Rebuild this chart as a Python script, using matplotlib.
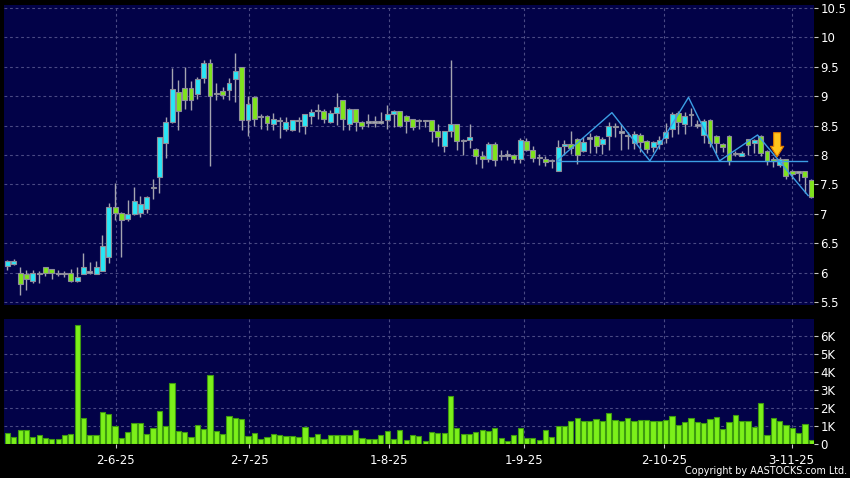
import matplotlib
matplotlib.use("Agg")
import matplotlib.pyplot as plt
import numpy as np

# ---------------- data ----------------
opens = [6.12, 6.14, 5.99, 5.98, 5.85, 5.98, 6.09, 6.06, 5.99, 5.99,
         5.99, 5.85, 5.98, 6.01, 5.98, 6.03, 6.27, 7.11, 7.02, 6.92,
         6.99, 7.01, 7.09, 7.45, 7.62, 8.20, 8.56, 9.07, 9.14, 9.14,
         9.04, 9.31, 9.56, 9.05, 9.09, 9.10, 9.30, 9.49, 8.59, 8.99,
         8.66, 8.67, 8.53, 8.58, 8.44, 8.43, 8.59, 8.50, 8.67, 8.75,
         8.74, 8.56, 8.72, 8.93, 8.53, 8.78, 8.56, 8.56, 8.56, 8.56,
         8.59, 8.70, 8.74, 8.67, 8.61, 8.58, 8.58, 8.59, 8.40, 8.16,
         8.40, 8.52, 8.25, 8.26, 8.11, 7.99, 7.94, 8.18, 7.99, 8.00,
         8.00, 7.94, 8.23, 8.08, 7.96, 7.93, 7.90, 7.73, 8.16, 8.19,
         8.28, 8.06, 8.29, 8.33, 8.18, 8.33, 8.48, 8.39, 8.33, 8.20,
         8.34, 8.24, 8.14, 8.19, 8.29, 8.44, 8.71, 8.52, 8.69, 8.51,
         8.34, 8.59, 8.33, 8.19, 8.33, 8.02, 7.99, 8.27, 8.20, 8.33,
         8.07, 7.94, 7.83, 7.93, 7.72, 7.71, 7.72, 7.58]
closes = [6.19, 6.19, 5.80, 5.89, 5.99, 5.98, 5.99, 5.99, 5.99, 5.99,
          5.85, 5.92, 6.09, 6.01, 6.09, 6.45, 7.11, 7.01, 6.89, 6.99,
          7.21, 7.16, 7.28, 7.45, 8.31, 8.56, 9.13, 8.75, 8.94, 8.93,
          9.30, 9.56, 9.00, 9.05, 9.02, 9.22, 9.43, 8.59, 8.87, 8.61,
          8.66, 8.54, 8.61, 8.58, 8.56, 8.59, 8.59, 8.69, 8.73, 8.75,
          8.62, 8.71, 8.82, 8.62, 8.79, 8.56, 8.50, 8.56, 8.56, 8.56,
          8.69, 8.74, 8.50, 8.57, 8.47, 8.58, 8.58, 8.40, 8.30, 8.40,
          8.52, 8.23, 8.25, 8.30, 7.99, 7.94, 8.18, 7.91, 7.99, 8.00,
          7.94, 8.25, 8.09, 7.95, 7.96, 7.88, 7.90, 8.14, 8.19, 8.12,
          8.00, 8.22, 8.29, 8.15, 8.28, 8.50, 8.48, 8.39, 8.33, 8.36,
          8.22, 8.11, 8.22, 8.26, 8.39, 8.70, 8.56, 8.67, 8.69, 8.51,
          8.57, 8.21, 8.21, 8.13, 7.90, 8.02, 8.03, 8.17, 8.25, 8.04,
          7.90, 7.89, 7.94, 7.65, 7.67, 7.71, 7.62, 7.29]
highs = [6.22, 6.24, 6.10, 6.04, 6.04, 6.03, 6.10, 6.07, 6.05, 6.02,
         6.07, 6.10, 6.33, 6.18, 6.20, 6.64, 7.18, 7.53, 7.03, 7.23,
         7.45, 7.31, 7.30, 7.60, 8.31, 8.65, 9.48, 9.28, 9.50, 9.25,
         9.32, 9.61, 9.63, 9.22, 9.16, 9.31, 9.73, 9.49, 9.00, 9.00,
         8.69, 8.68, 8.72, 8.64, 8.65, 8.60, 8.64, 8.70, 8.79, 8.87,
         8.78, 8.77, 9.05, 8.94, 8.80, 8.79, 8.58, 8.69, 8.67, 8.73,
         8.85, 8.76, 8.75, 8.68, 8.62, 8.62, 8.60, 8.60, 8.52, 8.41,
         9.61, 8.53, 8.27, 8.52, 8.12, 8.07, 8.22, 8.22, 8.09, 8.09,
         8.01, 8.29, 8.29, 8.16, 8.01, 7.98, 7.94, 8.25, 8.25, 8.41,
         8.29, 8.30, 8.38, 8.34, 8.30, 8.56, 8.55, 8.52, 8.39, 8.41,
         8.38, 8.25, 8.24, 8.32, 8.55, 8.73, 8.74, 8.73, 8.80, 8.60,
         8.62, 8.62, 8.34, 8.21, 8.34, 8.06, 8.06, 8.28, 8.27, 8.34,
         8.08, 7.96, 7.96, 7.94, 7.74, 7.73, 7.73, 7.59]
lows = [6.05, 6.13, 5.62, 5.71, 5.82, 5.83, 5.94, 5.89, 5.94, 5.92,
        5.84, 5.84, 5.97, 5.98, 5.98, 6.02, 6.17, 6.90, 6.27, 6.88,
        6.98, 6.95, 7.02, 7.26, 7.35, 7.95, 8.55, 8.43, 8.79, 8.76,
        8.96, 9.23, 7.81, 8.94, 8.95, 8.94, 8.90, 8.42, 8.32, 8.50,
        8.45, 8.43, 8.42, 8.29, 8.41, 8.40, 8.39, 8.35, 8.53, 8.62,
        8.55, 8.55, 8.51, 8.42, 8.43, 8.40, 8.45, 8.48, 8.48, 8.52,
        8.45, 8.48, 8.48, 8.37, 8.42, 8.45, 8.48, 8.22, 8.16, 8.05,
        8.30, 8.09, 8.00, 8.12, 7.84, 7.78, 7.88, 7.81, 7.92, 7.91,
        7.86, 7.86, 8.07, 7.88, 7.83, 7.82, 7.78, 7.72, 8.00, 8.02,
        7.84, 8.05, 8.04, 8.04, 8.02, 8.08, 8.30, 8.08, 8.10, 8.10,
        8.05, 8.03, 8.05, 8.10, 8.20, 8.30, 8.36, 8.35, 8.50, 8.46,
        8.20, 8.13, 8.03, 8.05, 7.83, 7.99, 7.98, 8.00, 8.03, 7.98,
        7.83, 7.80, 7.80, 7.60, 7.60, 7.55, 7.35, 7.27]
volumes_k = [0.61, 0.41, 0.76, 0.78, 0.41, 0.48, 0.35, 0.30, 0.30, 0.48,
             0.58, 6.61, 1.42, 0.52, 0.52, 1.79, 1.66, 1.00, 0.32, 0.69,
             1.14, 1.19, 0.54, 0.88, 1.84, 0.99, 3.37, 0.74, 0.65, 0.41,
             1.06, 0.82, 3.85, 0.71, 0.58, 1.56, 1.42, 1.40, 0.47, 0.63,
             0.30, 0.37, 0.58, 0.52, 0.45, 0.45, 0.37, 0.97, 0.41, 0.56,
             0.30, 0.48, 0.48, 0.50, 0.52, 0.78, 0.34, 0.26, 0.26, 0.50,
             0.74, 0.26, 0.80, 0.22, 0.50, 0.47, 0.19, 0.69, 0.61, 0.63,
             2.66, 0.89, 0.56, 0.56, 0.65, 0.80, 0.74, 0.89, 0.35, 0.19,
             0.52, 0.88, 0.34, 0.35, 0.22, 0.78, 0.41, 1.00, 1.00, 1.30,
             1.47, 1.30, 1.30, 1.38, 1.30, 1.71, 1.36, 1.30, 1.43, 1.27,
             1.34, 1.34, 1.28, 1.27, 1.36, 1.53, 1.08, 1.25, 1.42, 1.25,
             1.19, 1.40, 1.51, 0.84, 1.25, 1.64, 1.27, 1.27, 0.93, 2.27,
             0.50, 1.43, 1.30, 1.06, 0.91, 0.63, 1.12, 0.22]

date_labels = ["2-6-25", "2-7-25", "1-8-25", "1-9-25", "2-10-25", "3-11-25"]
date_pos = [17.1, 38.2, 60.3, 81.6, 103.8, 123.9]

price_ticks = [5.5, 6, 6.5, 7, 7.5, 8, 8.5, 9, 9.5, 10, 10.5]
vol_ticks = [0, 1, 2, 3, 4, 5, 6]
vol_labels = ["0", "1K", "2K", "3K", "4K", "5K", "6K"]

# chart pattern annotation (zigzag + neckline)
pattern_idx = [86.8, 95.5, 101.5, 107.6, 112.5, 118.5, 126.5]
pattern_price = [7.90, 8.72, 7.90, 8.98, 7.90, 8.34, 7.31]
neck_idx = [86.8, 126.4]
neck_price = [7.90, 7.90]
arrow_idx = 121.6
arrow_from, arrow_to = 8.38, 7.97

# ---------------- style ----------------
BG = "#000000"
PANEL = "#020248"
GRID = "#4a4a84"
UP = "#28e6f6"
DOWN = "#7fe41c"
DOJI = "#a8a8b8"
EDGE = "#8d8d9a"
WICK = "#a4a4b0"
VOL = "#7cf01a"
VOL_EDGE = "#3d9a10"
LINE = "#3c9ee4"

plt.rcParams['font.family'] = ['DejaVu Sans']

fig = plt.figure(figsize=(8.5, 4.78), dpi=100, facecolor=BG)
ax = fig.add_axes([4/850, 1-305/478, 809.5/850, 300/478], facecolor=PANEL)
axv = fig.add_axes([4/850, 1-444/478, 809.5/850, 125/478], facecolor=PANEL, sharex=ax)

n = len(opens)
x = np.arange(n)
o = np.array(opens); c = np.array(closes)
h = np.array(highs); l = np.array(lows)

colors = []
for oo, cc in zip(o, c):
    if abs(cc - oo) < 1e-9:
        colors.append(DOJI)
    elif cc > oo:
        colors.append(UP)
    else:
        colors.append(DOWN)

ax.vlines(x, l, h, color=WICK, lw=1.0, zorder=2)
bottoms = np.minimum(o, c)
heights = np.maximum(np.abs(c - o), 0.02)
bottoms = np.where(np.abs(c - o) < 0.02, (o + c) / 2 - 0.01, bottoms)
ax.bar(x, heights, bottom=bottoms, width=0.78, color=colors, edgecolor=EDGE,
       linewidth=0.8, zorder=3)

ax.plot(pattern_idx, pattern_price, color=LINE, lw=1.0, zorder=4)
ax.plot(neck_idx, neck_price, color=LINE, lw=1.0, zorder=4)
ax.annotate("", xy=(arrow_idx, arrow_to), xytext=(arrow_idx, arrow_from),
            arrowprops=dict(arrowstyle="simple,head_length=0.75,head_width=0.95,tail_width=0.5",
                            fc="#ffc41c", ec="#e07a00", lw=0.8, mutation_scale=10,
                            shrinkA=0, shrinkB=0),
            zorder=6)

axv.bar(x, volumes_k, width=0.82, color=VOL, edgecolor=VOL_EDGE, linewidth=0.8, zorder=3)

xlim = (-0.55, 127.35)
ax.set_xlim(*xlim)
ax.set_ylim(5.45, 10.55)
axv.set_ylim(0, 6.95)

for a in (ax, axv):
    for s in a.spines.values():
        s.set_visible(False)
    a.yaxis.tick_right()
    a.tick_params(axis='y', colors="#c8c8c8", labelcolor="white", length=3,
                  width=0.8, pad=2, labelsize=8.5, direction='out')
    a.set_xticks(date_pos)
    a.grid(True, color=GRID, linestyle=(0, (2.5, 2.5)), linewidth=0.8, zorder=0)
    a.set_axisbelow(True)

ax.set_yticks(price_ticks)
ax.set_yticklabels([f"{t:g}" for t in price_ticks])
ax.tick_params(axis='x', length=0, labelbottom=False)

axv.set_yticks(vol_ticks)
axv.set_yticklabels(vol_labels)
axv.set_xticklabels(date_labels)
axv.tick_params(axis='x', colors="#c8c8c8", labelcolor="white", length=3,
                width=0.8, pad=4, labelsize=8.5)

fig.text(0.997, 0.004, "Copyright by AASTOCKS.com Ltd.", color="white",
         fontsize=6.9, ha="right", va="bottom")

fig.savefig("out.png", dpi=100, facecolor=BG)
